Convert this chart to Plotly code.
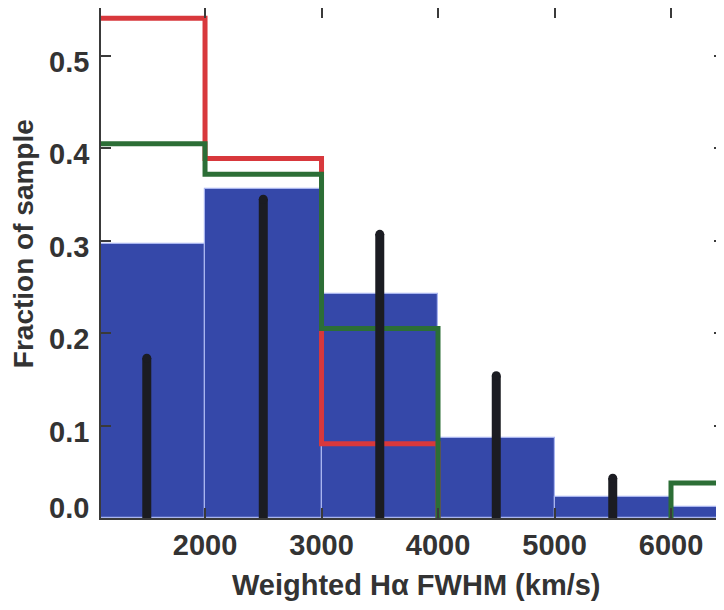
import plotly.graph_objects as go

# ---- data ----
bin_edges = [1000, 2000, 3000, 4000, 5000, 6000, 7000]
bin_centers = [1500, 2500, 3500, 4500, 5500, 6500]
blue_vals = [0.297, 0.356, 0.242, 0.087, 0.023, 0.012]
red_vals = [0.541, 0.389, 0.0805, 0.0, 0.0, 0.0]
green_vals = [0.405, 0.372, 0.205, 0.0, 0.0, 0.038]
black_x = [1500, 2500, 3500, 4500, 5500]
black_vals = [0.173, 0.345, 0.307, 0.154, 0.043]
x_ticks = [2000, 3000, 4000, 5000, 6000]
y_ticks = [0.0, 0.1, 0.2, 0.3, 0.4, 0.5]
y_ticklabels = ["0.0", "0.1", "0.2", "0.3", "0.4", "0.5"]
x_title = "Weighted Hα FWHM (km/s)"
y_title = "Fraction of sample"

BLUE = "#3548a9"
RED = "#d8383c"
GREEN = "#2c6e36"
BLACK = "#1b1c22"
AXIS = "#3a3a3a"
TEXT = "#333333"


def step_path(edges, vals):
    xs, ys = [], []
    for i, v in enumerate(vals):
        if v == 0:
            xs.append(None)
            ys.append(None)
            continue
        prev = vals[i - 1] if i > 0 else 0
        xs += [edges[i], edges[i], edges[i + 1]]
        ys += [prev, v, v]
        nxt = vals[i + 1] if i + 1 < len(vals) else 0
        if nxt == 0:
            xs.append(edges[i + 1])
            ys.append(0)
    return xs, ys


fig = go.Figure()

widths = [bin_edges[i + 1] - bin_edges[i] for i in range(len(blue_vals))]
fig.add_trace(go.Bar(
    x=bin_centers, y=blue_vals, width=widths,
    marker=dict(color=BLUE, line=dict(color="#a9b5ef", width=1.2)),
    showlegend=False,
))

rx, ry = step_path(bin_edges, red_vals)
fig.add_trace(go.Scatter(x=rx, y=ry, mode="lines",
                         line=dict(color=RED, width=5), showlegend=False))
gx, gy = step_path(bin_edges, green_vals)
fig.add_trace(go.Scatter(x=gx, y=gy, mode="lines",
                         line=dict(color=GREEN, width=5), showlegend=False))

bx, by = [], []
for xv, h in zip(black_x, black_vals):
    bx += [xv, xv, None]
    by += [0, h, None]
fig.add_trace(go.Scatter(x=bx, y=by, mode="lines",
                         line=dict(color=BLACK, width=9), showlegend=False))
fig.add_trace(go.Scatter(x=black_x, y=black_vals, mode="markers",
                         marker=dict(color=BLACK, size=9, symbol="circle"),
                         showlegend=False))

FAM = "Liberation Sans, Arial, sans-serif"
tick_font = dict(family=FAM, size=29, color=TEXT, weight="bold")
xtitle_font = dict(family=FAM, size=29, color=TEXT, weight="bold")
ytitle_font = dict(family=FAM, size=28, color=TEXT, weight="bold")

annotations = [
    dict(text=x_title, xref="paper", yref="paper", x=0.506, y=0,
         yshift=-67, xanchor="center", yanchor="middle",
         showarrow=False, font=xtitle_font),
    dict(text=y_title, xref="paper", yref="paper", x=0, y=0.537,
         xshift=-78, xanchor="center", yanchor="middle", textangle=-90,
         showarrow=False, font=ytitle_font),
]
# y tick labels sit a little below their ticks; 0.0 is lifted above the baseline
for v, t in zip(y_ticks, y_ticklabels):
    annotations.append(dict(text=t, xref="paper", yref="y", x=0, y=v,
                            xshift=-10, yshift=(10 if v == 0 else -6),
                            xanchor="right", yanchor="middle",
                            showarrow=False, font=tick_font))

# the page body has an 8px margin; size the figure so the plot lands where
# the original's frame is
fig.update_layout(
    width=716, height=602,
    margin=dict(l=93, r=0, t=0, b=92),
    paper_bgcolor="white", plot_bgcolor="white",
    bargap=0,
    font=tick_font,
    annotations=annotations,
    xaxis=dict(
        range=[1107, 6455],
        tickvals=x_ticks,
        ticks="inside", ticklen=10, tickwidth=2, tickcolor=AXIS,
        showline=True, linecolor=AXIS, linewidth=2, mirror="ticks",
        showgrid=False, zeroline=False, automargin=False,
        tickfont=tick_font,
    ),
    yaxis=dict(
        range=[0, 0.552],
        tickvals=y_ticks, ticktext=[""] * len(y_ticks),
        ticks="inside", ticklen=10, tickwidth=2, tickcolor=AXIS,
        showline=True, linecolor=AXIS, linewidth=2, mirror="ticks",
        showgrid=False, zeroline=False, automargin=False,
        tickfont=tick_font,
    ),
)

fig.write_html("out.html")
